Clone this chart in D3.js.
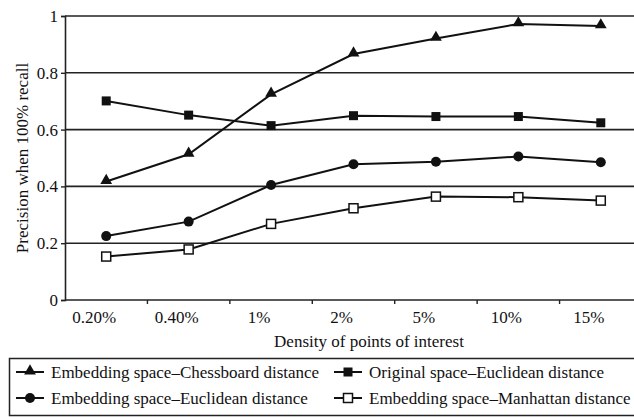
<!DOCTYPE html>
<html>
<head>
  <meta charset="UTF-8">
  <script src="https://cdn.jsdelivr.net/npm/d3@7"></script>
  <style>
    body { margin: 0; background: #fff; }
    svg { display: block; }
  </style>
</head>
<body>
  <svg id="chart"></svg>
<script>
  const width = 634, height = 417;
  const serif = 'Liberation Serif';

  const categories = ['0.20%', '0.40%', '1%', '2%', '5%', '10%', '15%'];
  const yTicks = [0, 0.2, 0.4, 0.6, 0.8, 1];

  const chessboard = [0.417, 0.513, 0.724, 0.866, 0.921, 0.972, 0.965];
  const originalEuclid = [0.701, 0.651, 0.614, 0.649, 0.646, 0.646, 0.624];
  const embedEuclid = [0.225, 0.276, 0.405, 0.478, 0.487, 0.505, 0.485];
  const manhattan = [0.153, 0.178, 0.268, 0.323, 0.364, 0.362, 0.350];

  const seriesNames = [
    'Embedding space\u2013Chessboard distance',
    'Original space\u2013Euclidean distance',
    'Embedding space\u2013Euclidean distance',
    'Embedding space\u2013Manhattan distance'
  ];

  const series = [
    { name: seriesNames[0], values: chessboard, marker: 'triangle' },
    { name: seriesNames[1], values: originalEuclid, marker: 'square' },
    { name: seriesNames[2], values: embedEuclid, marker: 'circle' },
    { name: seriesNames[3], values: manhattan, marker: 'open' }
  ];

  const margin = { left: 65, top: 16, right: -8, bottom: 117 };

  const svg = d3.select('#chart')
    .attr('width', width)
    .attr('height', height);

  const x = d3.scaleBand()
    .domain(categories)
    .range([margin.left, width - margin.right]);

  const y = d3.scaleLinear()
    .domain([0, 1])
    .range([height - margin.bottom, margin.top]);

  // horizontal grid
  svg.append('g')
    .selectAll('line')
    .data(yTicks.filter(d => d > 0))
    .join('line')
    .attr('x1', margin.left)
    .attr('x2', width)
    .attr('y1', d => y(d))
    .attr('y2', d => y(d))
    .attr('stroke', '#222')
    .attr('stroke-width', 1.6);

  // y axis
  const yAxis = svg.append('g')
    .attr('transform', `translate(${margin.left},0)`)
    .call(d3.axisLeft(y).tickValues(yTicks).tickFormat(d3.format('')).tickSize(4).tickPadding(3));
  yAxis.attr('font-family', serif).attr('font-size', 17);
  yAxis.select('.domain').attr('stroke', '#222').attr('stroke-width', 1.6);
  yAxis.selectAll('.tick line').attr('stroke', '#222').attr('stroke-width', 1.4);
  yAxis.selectAll('text')
    .attr('font-family', serif)
    .style('font-family', serif)
    .attr('fill', '#111');

  // x axis line
  svg.append('line')
    .attr('x1', margin.left)
    .attr('x2', width)
    .attr('y1', y(0))
    .attr('y2', y(0))
    .attr('stroke', '#222')
    .attr('stroke-width', 1.6);

  // x boundary ticks
  svg.append('g')
    .selectAll('line')
    .data(categories.slice(1))
    .join('line')
    .attr('x1', d => x(d))
    .attr('x2', d => x(d))
    .attr('y1', y(0))
    .attr('y2', y(0) + 4)
    .attr('stroke', '#222')
    .attr('stroke-width', 1.4);

  svg.append('g')
    .selectAll('text')
    .data(categories)
    .join('text')
    .attr('x', d => x(d) + x.bandwidth() / 2 - 12)
    .attr('y', y(0) + 23)
    .attr('text-anchor', 'middle')
    .attr('font-family', serif)
    .style('font-family', serif)
    .attr('font-size', 17)
    .attr('fill', '#111')
    .text(d => d);

  // axis titles
  svg.append('text')
    .attr('x', 369)
    .attr('y', 347)
    .attr('text-anchor', 'middle')
    .attr('font-family', serif)
    .style('font-family', serif)
    .attr('font-size', 17)
    .attr('fill', '#111')
    .text('Density of points of interest');

  svg.append('text')
    .attr('transform', 'translate(28,158) rotate(-90)')
    .attr('text-anchor', 'middle')
    .attr('font-family', serif)
    .style('font-family', serif)
    .attr('font-size', 17)
    .attr('fill', '#111')
    .text('Precision when 100% recall');

  const cx = (i) => x(categories[i]) + x.bandwidth() / 2;

  const line = d3.line()
    .x((d, i) => cx(i))
    .y(d => y(d));

  const triangle = d3.symbol().type(d3.symbolTriangle).size(60);

  function drawMarker(g, type, px, py) {
    if (type === 'triangle') {
      g.append('path')
        .attr('d', triangle())
        .attr('transform', `translate(${px},${py - 1})`)
        .attr('fill', '#111');
    } else if (type === 'square') {
      g.append('rect')
        .attr('x', px - 4.5).attr('y', py - 4.5)
        .attr('width', 9).attr('height', 9)
        .attr('fill', '#111');
    } else if (type === 'circle') {
      g.append('circle')
        .attr('cx', px).attr('cy', py).attr('r', 5)
        .attr('fill', '#111');
    } else {
      g.append('rect')
        .attr('x', px - 4.5).attr('y', py - 4.5)
        .attr('width', 9).attr('height', 9)
        .attr('fill', '#fff')
        .attr('stroke', '#111')
        .attr('stroke-width', 1.5);
    }
  }

  series.forEach(s => {
    const g = svg.append('g');
    g.append('path')
      .datum(s.values)
      .attr('d', line)
      .attr('fill', 'none')
      .attr('stroke', '#111')
      .attr('stroke-width', 2);
    s.values.forEach((v, i) => drawMarker(g, s.marker, cx(i), y(v)));
  });

  // legend
  const legend = svg.append('g');
  legend.append('rect')
    .attr('x', 9.5)
    .attr('y', 358.5)
    .attr('width', 640)
    .attr('height', 57)
    .attr('fill', 'none')
    .attr('stroke', '#222')
    .attr('stroke-width', 1.5);

  const legendPos = [
    { lx: 16, ly: 372 },
    { lx: 334, ly: 372 },
    { lx: 16, ly: 398 },
    { lx: 334, ly: 398 }
  ];

  series.forEach((s, i) => {
    const p = legendPos[i];
    const g = legend.append('g');
    g.append('line')
      .attr('x1', p.lx).attr('x2', p.lx + 28)
      .attr('y1', p.ly).attr('y2', p.ly)
      .attr('stroke', '#111').attr('stroke-width', 2);
    drawMarker(g, s.marker, p.lx + 14, p.ly);
    g.append('text')
      .attr('x', p.lx + 35)
      .attr('y', p.ly + 6)
      .attr('font-family', serif)
      .style('font-family', serif)
      .attr('font-size', 17)
      .attr('fill', '#111')
      .text(s.name);
  });
</script>
</body>
</html>
